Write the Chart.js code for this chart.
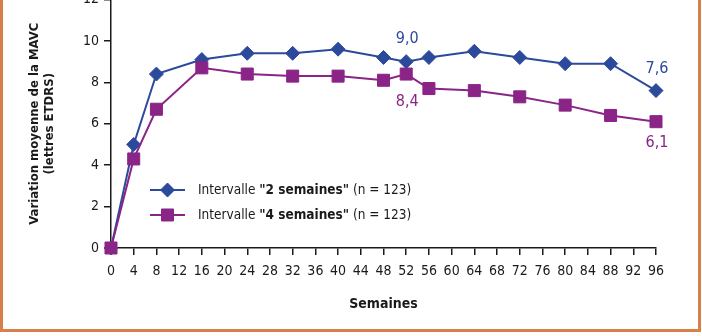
<!DOCTYPE html>
<html lang="fr">
<head>
<meta charset="utf-8">
<title>Variation moyenne de la MAVC</title>
<script src="https://cdn.jsdelivr.net/npm/chart.js@4/dist/chart.umd.min.js"></script>
<style>
  html, body { margin: 0; padding: 0; background: #fff; overflow: hidden; }
  body { width: 702px; height: 336px; position: relative; }
  #frame { position: absolute; left: 0; top: -10px; width: 701px; height: 342px; box-sizing: border-box; border: 3px solid #d8804c; }
  #wrap { position: absolute; left: 0; top: -20px; width: 702px; height: 356px; }
</style>
</head>
<body>
<div id="frame"></div>
<div id="wrap"><canvas id="chart"></canvas></div>
<script>
const WEEKS = [0, 4, 8, 16, 24, 32, 40, 48, 52, 56, 64, 72, 80, 88, 96];
const TWO_WEEKS = [0, 5.0, 8.4, 9.1, 9.4, 9.4, 9.6, 9.2, 9.0, 9.2, 9.5, 9.2, 8.9, 8.9, 7.6];
const FOUR_WEEKS = [0, 4.3, 6.7, 8.7, 8.4, 8.3, 8.3, 8.1, 8.4, 7.7, 7.6, 7.3, 6.9, 6.4, 6.1];
const X_TICK_STEP = 4;
const Y_TICK_STEP = 2;

const BLUE = '#2c4a9c';
const PURPLE = '#8a2487';
const INK = '#1a1a1a';
const FONT = "'Liberation Sans Narrow', 'DejaVu Sans Condensed', sans-serif";

// printed values: dataset, point index, vertical shift of the text
const VALUE_TAGS = [
  { ds: 0, i: 8, dy: -23 },
  { ds: 0, i: 14, dy: -22 },
  { ds: 1, i: 8, dy: 28 },
  { ds: 1, i: 14, dy: 21 },
];

const fmt = (v) => v.toFixed(1).replace('.', ',');
const toPoints = (vals) => WEEKS.map((w, i) => ({ x: w, y: vals[i] }));

const valueTags = {
  id: 'valueTags',
  afterDatasetsDraw(chart) {
    const { ctx } = chart;
    ctx.save();
    ctx.font = '500 16px ' + FONT;
    ctx.textAlign = 'center';
    ctx.textBaseline = 'middle';
    VALUE_TAGS.forEach((t) => {
      const ds = chart.data.datasets[t.ds];
      const pt = chart.getDatasetMeta(t.ds).data[t.i];
      ctx.fillStyle = ds.borderColor;
      ctx.fillText(fmt(ds.data[t.i].y), pt.x + 1, pt.y + t.dy);
    });
    ctx.restore();
  },
};

// legend sits inside the plot, lower left
const innerLegend = {
  id: 'innerLegend',
  afterDatasetsDraw(chart) {
    const { ctx } = chart;
    const x0 = 150, x1 = 185, tx = 198;
    const rows = [210, 235];
    ctx.save();
    chart.data.datasets.forEach((ds, k) => {
      const y = rows[k];
      ctx.strokeStyle = ds.borderColor;
      ctx.lineWidth = ds.borderWidth;
      ctx.beginPath();
      ctx.moveTo(x0, y);
      ctx.lineTo(x1, y);
      ctx.stroke();
      ctx.fillStyle = ds.borderColor;
      ctx.lineWidth = 1;
      Chart.helpers.drawPoint(ctx, { pointStyle: ds.pointStyle, radius: ds.pointRadius, borderWidth: 1, rotation: 0 }, (x0 + x1) / 2, y);

      let x = tx;
      ctx.fillStyle = INK;
      ctx.textBaseline = 'middle';
      ds.legendParts.forEach(([txt, bold]) => {
        ctx.font = (bold ? 'bold ' : '') + '13.5px ' + FONT;
        ctx.fillText(txt, x, y);
        x += ctx.measureText(txt).width;
      });
    });
    ctx.restore();
  },
};

new Chart(document.getElementById('chart'), {
  type: 'line',
  data: {
    datasets: [
      {
        label: 'Intervalle "2 semaines" (n = 123)',
        legendParts: [['Intervalle ', false], ['"2 semaines"', true], [' (n = 123)', false]],
        data: toPoints(TWO_WEEKS),
        borderColor: BLUE,
        backgroundColor: BLUE,
        borderWidth: 2,
        pointStyle: 'rectRot',
        pointRadius: 7,
        pointBorderWidth: 1,
        clip: false,
        order: 2,
      },
      {
        label: 'Intervalle "4 semaines" (n = 123)',
        legendParts: [['Intervalle ', false], ['"4 semaines"', true], [' (n = 123)', false]],
        data: toPoints(FOUR_WEEKS),
        borderColor: PURPLE,
        backgroundColor: PURPLE,
        borderWidth: 2,
        pointStyle: 'rect',
        pointRadius: 8.5,
        pointBorderWidth: 1,
        clip: false,
        order: 1,
      },
    ],
  },
  options: {
    responsive: true,
    maintainAspectRatio: false,
    animation: false,
    layout: { padding: { left: 20, right: 46, top: 19.5, bottom: 0 } },
    plugins: { legend: { display: false }, tooltip: { enabled: false } },
    scales: {
      x: {
        type: 'linear',
        min: 0,
        max: 96,
        ticks: { stepSize: X_TICK_STEP, autoSkip: false, maxRotation: 0, padding: 8, color: INK, font: { family: FONT, size: 14 } },
        grid: { drawOnChartArea: false, tickLength: 7, color: INK, lineWidth: 1.5 },
        border: { color: INK, width: 1.5 },
        title: { display: true, text: 'Semaines', color: INK, font: { family: FONT, size: 14, weight: 'bold' }, padding: { top: 0, bottom: 23 } },
        afterFit: (s) => { s.height = 88; },
      },
      y: {
        min: 0,
        max: 12,
        ticks: { stepSize: Y_TICK_STEP, padding: 5, color: INK, font: { family: FONT, size: 14 } },
        grid: { drawOnChartArea: false, tickLength: 7, color: INK, lineWidth: 1.5 },
        border: { color: INK, width: 1.5 },
        title: {
          display: true,
          text: ['Variation moyenne de la MAVC', '(lettres ETDRS)'],
          color: INK,
          font: { family: FONT, size: 13, weight: 'bold', lineHeight: 1.15 },
          padding: { top: 7, bottom: 0 },
        },
        afterFit: (s) => { s.width = 91; },
      },
    },
  },
  plugins: [valueTags, innerLegend],
});
</script>
</body>
</html>
